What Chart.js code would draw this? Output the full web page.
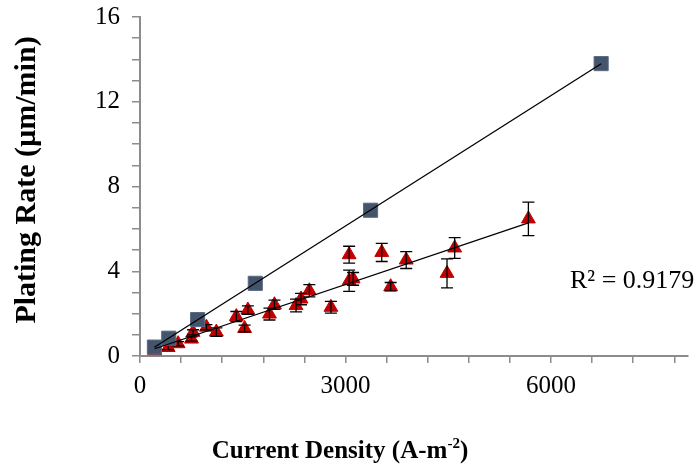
<!DOCTYPE html>
<html lang="en">
<head>
  <meta charset="UTF-8">
  <title>Plating Rate vs Current Density</title>
  <script src="https://cdn.jsdelivr.net/npm/chart.js"></script>
  <style>
    html, body { margin: 0; background: #fff; }
  </style>
</head>
<body>
  <canvas id="plot" width="699" height="472"></canvas>

  <script>
    // blue squares
    const squareX = [210, 420, 841, 1683, 3366, 6732];
    const squareY = [0.42, 0.84, 1.72, 3.43, 6.88, 13.8];

    // red triangles + half-width of their error bars
    const triX = [215, 411, 557, 752, 775, 970, 1115, 1406, 1527, 1575, 1890, 1963, 2278,
                  2351, 2472, 2787, 3053, 3053, 3111, 3529, 3659, 3886, 4482, 4594, 5670];
    const triY = [0.25, 0.40, 0.58, 0.80, 1.12, 1.36, 1.13, 1.86, 1.30, 2.17, 1.98, 2.42, 2.38,
                  2.69, 3.08, 2.30, 4.78, 3.55, 3.64, 4.89, 3.27, 4.53, 3.90, 5.10, 6.47];
    const triErr = [0.1, 0.1, 0.1, 0.1, 0.12, 0.12, 0.2, 0.24, 0.16, 0.2, 0.28, 0.22, 0.3,
                    0.27, 0.29, 0.28, 0.4, 0.5, 0.3, 0.43, 0.2, 0.4, 0.68, 0.49, 0.79];

    // tick marks (minor ones carry no label)
    const xTicks = [0, 600, 1200, 1800, 2400, 3000, 3600, 4200, 4800, 5400, 6000, 6600, 7200, 7800];
    const xLabels = [0, 3000, 6000];
    const yTicks = [0, 1, 2, 3, 4, 5, 6, 7, 8, 9, 10, 11, 12, 13, 14, 15, 16];
    const yLabels = [0, 4, 8, 12, 16];
    const r2Text = 'R² = 0.9179';

    const serif = 'Liberation Serif';
    const axisGrey = '#8c8c8c';

    // least squares line between the smallest and largest x
    function trend(xs, ys) {
      const n = xs.length;
      const mx = xs.reduce((a, b) => a + b, 0) / n;
      const my = ys.reduce((a, b) => a + b, 0) / n;
      let sxy = 0, sxx = 0;
      xs.forEach((x, i) => { sxy += (x - mx) * (ys[i] - my); sxx += (x - mx) * (x - mx); });
      const b = sxy / sxx, a = my - b * mx;
      const lo = Math.min(...xs), hi = Math.max(...xs);
      return [{ x: lo, y: a + b * lo }, { x: hi, y: a + b * hi }];
    }

    const errorBars = {
      id: 'errorBars',
      afterDatasetDraw(chart, args) {
        if (args.index !== 1) return;
        const { ctx } = chart;
        const y = chart.scales.y;
        ctx.save();
        ctx.strokeStyle = '#000';
        ctx.lineWidth = 1.3;
        args.meta.data.forEach((pt, i) => {
          const top = y.getPixelForValue(triY[i] + triErr[i]);
          const bot = y.getPixelForValue(triY[i] - triErr[i]);
          ctx.beginPath();
          ctx.moveTo(pt.x, top); ctx.lineTo(pt.x, bot);
          ctx.moveTo(pt.x - 6, top); ctx.lineTo(pt.x + 6, top);
          ctx.moveTo(pt.x - 6, bot); ctx.lineTo(pt.x + 6, bot);
          ctx.stroke();
        });
        ctx.restore();
      }
    };

    // axis titles and the R² note
    const texts = {
      id: 'texts',
      afterDraw(chart) {
        const { ctx } = chart;
        ctx.save();
        ctx.fillStyle = '#000';

        ctx.font = `bold 30px "${serif}"`;
        ctx.textAlign = 'center';
        ctx.textBaseline = 'middle';
        ctx.translate(27, 180);
        ctx.rotate(-Math.PI / 2);
        ctx.fillText('Plating Rate (µm/min)', 0, 0);
        ctx.setTransform(1, 0, 0, 1, 0, 0);

        // x title with a raised "-2"
        ctx.textAlign = 'left';
        ctx.textBaseline = 'alphabetic';
        const big = `bold 25px "${serif}"`, small = `bold 15px "${serif}"`;
        const p1 = 'Current Density (A-m', p2 = '-2', p3 = ')';
        ctx.font = big;
        const w1 = ctx.measureText(p1).width, w3 = ctx.measureText(p3).width;
        ctx.font = small;
        const w2 = ctx.measureText(p2).width;
        let x = 340 - (w1 + w2 + w3) / 2;
        const base = 458;
        ctx.font = big; ctx.fillText(p1, x, base); x += w1;
        ctx.font = small; ctx.fillText(p2, x, base - 10); x += w2;
        ctx.font = big; ctx.fillText(p3, x, base);

        ctx.font = `26px "${serif}"`;
        ctx.fillText(r2Text, 570, 288);
        ctx.restore();
      }
    };

    const tickFont = { family: serif, size: 25 };

    new Chart(document.getElementById('plot'), {
      type: 'scatter',
      data: {
        datasets: [
          {
            label: 'squares',
            data: squareX.map((x, i) => ({ x, y: squareY[i] })),
            pointStyle: 'rect',
            pointRadius: 10,
            backgroundColor: '#44546A',
            borderColor: '#5b6b86',
            borderWidth: 1,
            order: 2
          },
          {
            label: 'triangles',
            data: triX.map((x, i) => ({ x, y: triY[i] })),
            pointStyle: 'triangle',
            pointRadius: 8,
            backgroundColor: '#C00000',
            borderColor: '#C00000',
            borderWidth: 1,
            order: 3
          },
          {
            label: 'fit squares',
            data: trend(squareX, squareY),
            showLine: true,
            borderColor: '#000',
            borderWidth: 1.3,
            pointRadius: 0,
            order: 1
          },
          {
            label: 'fit triangles',
            data: trend(triX, triY),
            showLine: true,
            borderColor: '#000',
            borderWidth: 1.3,
            pointRadius: 0,
            order: 1
          }
        ]
      },
      options: {
        responsive: false,
        animation: false,
        layout: { padding: { top: 17, right: 9, left: 0, bottom: 0 } },
        plugins: { legend: { display: false }, tooltip: { enabled: false } },
        scales: {
          x: {
            type: 'linear',
            min: 0,
            max: 8000,
            afterFit: a => { a.height = 116; a.paddingLeft = 0; a.paddingRight = 0; },
            afterBuildTicks: a => { a.ticks = xTicks.map(v => ({ value: v })); },
            ticks: {
              autoSkip: false,
              maxRotation: 0,
              padding: 8,
              color: '#000',
              font: tickFont,
              callback: v => xLabels.includes(v) ? String(v) : ''
            },
            grid: { drawOnChartArea: false, tickLength: 7, color: axisGrey, lineWidth: 1.5 },
            border: { color: axisGrey, width: 2 }
          },
          y: {
            min: 0,
            max: 16,
            afterFit: a => { a.width = 140; a.paddingTop = 0; a.paddingBottom = 0; },
            afterBuildTicks: a => { a.ticks = yTicks.map(v => ({ value: v })); },
            ticks: {
              autoSkip: false,
              padding: 12,
              color: '#000',
              font: tickFont,
              callback: v => yLabels.includes(v) ? String(v) : ''
            },
            grid: { drawOnChartArea: false, tickLength: 8, color: axisGrey, lineWidth: 1.5 },
            border: { color: axisGrey, width: 2 }
          }
        }
      },
      plugins: [errorBars, texts]
    });
  </script>
</body>
</html>
